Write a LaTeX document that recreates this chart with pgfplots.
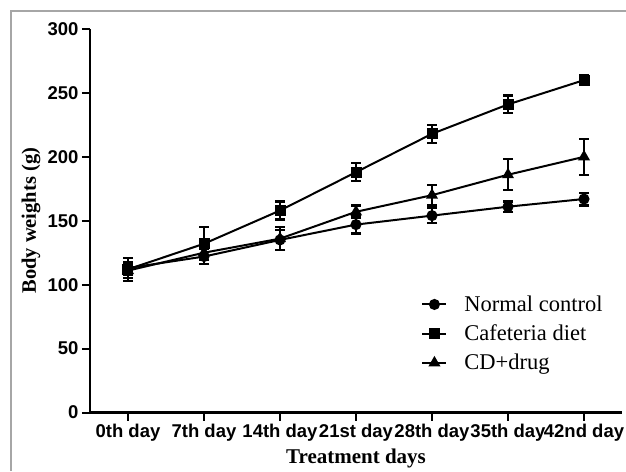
\documentclass[border=0pt]{standalone}
\usepackage{fontspec}
\setmainfont{Liberation Serif}
\setsansfont{Liberation Sans}
\usepackage{pgfplots}
\usepackage{pgfplotstable}
\pgfplotsset{compat=1.18}

% mean and SEM per week
\pgfplotstableread{
x y e
0 113 5
1 122 6
2 135 8
3 147 7
4 154 6
5 161 4
6 167 5
}\normalctl
\pgfplotstableread{
x y e
0 112 9
1 132 13
2 158 7
3 188 7
4 218 7
5 241 7
6 260 4
}\cafeteria
\pgfplotstableread{
x y e
0 111 6
1 125 6
2 136 9
3 157 5
4 170 8
5 186 12
6 200 14
}\cddrug

\pgfplotsset{
  series/.style={black, line width=2pt, mark options={solid, fill=black},
    error bars/.cd, y dir=both, y explicit,
    error bar style={line width=2.2pt},
    error mark options={rotate=90, mark size=5pt, line width=2.2pt}},
}

\begin{document}
\begin{tikzpicture}[x=1pt,y=1pt]
\path[use as bounding box] (-90,-58.5) rectangle (536,412.5);
\draw[gray!70, line width=1.5pt] (-79,-58.5) -- (-79,401.5) -- (536,401.5);
\begin{axis}[
  at={(0,0)}, anchor=south west,
  scale only axis, width=532pt, height=383.5pt,
  xmin=-0.5, xmax=6.5, ymin=0, ymax=300,
  axis x line*=bottom, axis y line*=left,
  axis line style={line width=2.5pt},
  xtick={0,...,6},
  xticklabels={0th day,7th day,14th day,21st day,28th day,35th day,42nd day},
  ytick={0,50,...,300},
  tick align=outside, major tick length=8pt,
  tick style={line width=2pt, black},
  ticklabel style={font=\sffamily\bfseries\fontsize{18.5}{20}\selectfont},
  /pgf/number format/assume math mode=true,
  xlabel={Treatment days},
  xlabel style={font=\bfseries\fontsize{21}{24}\selectfont,
    at={(axis description cs:0.5,-0.1186)}, anchor=center},
  ylabel={Body weights (g)},
  ylabel style={font=\bfseries\fontsize{20.5}{24}\selectfont,
    at={(axis description cs:-0.111,0.5)}, anchor=center},
  legend cell align=left,
  legend style={at={(axis description cs:0.617,0.315)}, anchor=north west,
    draw=none, fill=none, font=\rmfamily\fontsize{22.5}{24}\selectfont,
    row sep=8pt, /tikz/every odd column/.append style={column sep=15pt}},
  legend image code/.code={
    \draw[line width=2pt, mark repeat=2, mark phase=2, #1]
      plot coordinates {(0pt,0pt) (12pt,0pt) (24pt,0pt)};},
]
\addplot[mark=*, mark size=4.5pt, series]
  table[x=x, y=y, y error=e] {\normalctl};
\addplot[mark=square*, mark size=4.5pt, series]
  table[x=x, y=y, y error=e] {\cafeteria};
\addplot[mark=triangle*, mark size=5pt, series]
  table[x=x, y=y, y error=e] {\cddrug};
\legend{Normal control, Cafeteria diet, CD+drug}
\end{axis}
\end{tikzpicture}
\end{document}
